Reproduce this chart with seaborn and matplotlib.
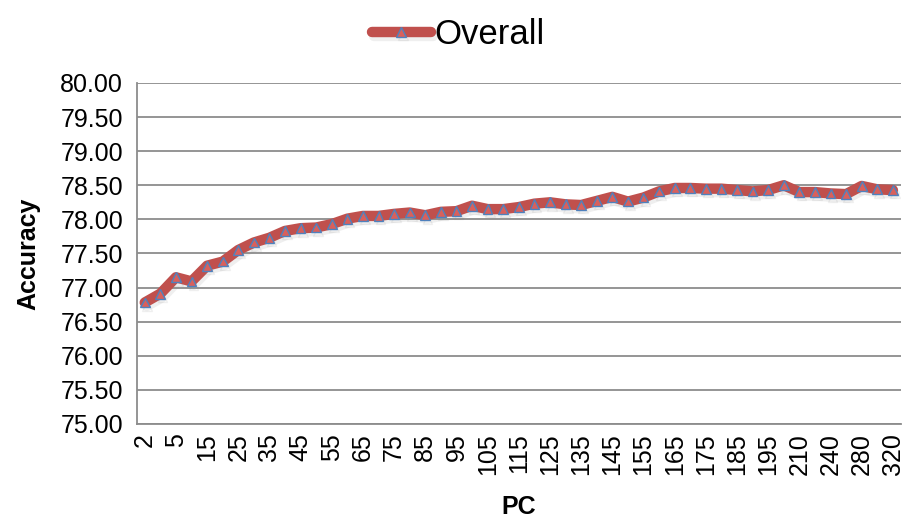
import numpy as np
import pandas as pd
import matplotlib
matplotlib.use("Agg")
import matplotlib.pyplot as plt
import matplotlib.patheffects as pe
import seaborn as sns

pc_labels = ["2", "3", "5", "10", "15", "20", "25", "30", "35", "40", "45", "50",
             "55", "60", "65", "70", "75", "80", "85", "90", "95", "100", "105", "110",
             "115", "120", "125", "130", "135", "140", "145", "150", "155", "160", "165",
             "170", "175", "180", "185", "190", "195", "200", "210", "220", "240", "260",
             "280", "300", "320"]
overall = [76.78, 76.91, 77.15, 77.09, 77.32, 77.38, 77.55, 77.66, 77.73, 77.83,
           77.87, 77.88, 77.93, 78.01, 78.05, 78.05, 78.08, 78.10, 78.06, 78.11,
           78.12, 78.20, 78.15, 78.15, 78.18, 78.23, 78.25, 78.22, 78.21, 78.27,
           78.33, 78.26, 78.32, 78.41, 78.46, 78.46, 78.45, 78.45, 78.43, 78.41,
           78.43, 78.50, 78.40, 78.40, 78.38, 78.37, 78.49, 78.44, 78.43]
y_ticks = [75.0, 75.5, 76.0, 76.5, 77.0, 77.5, 78.0, 78.5, 79.0, 79.5, 80.0]

df = pd.DataFrame({"pos": np.arange(len(pc_labels)), "PC": pc_labels, "Accuracy": overall})

sns.set_style("white")
plt.rcParams["font.family"] = ["Liberation Sans", "DejaVu Sans"]
plt.rcParams["text.color"] = "black"
plt.rcParams["axes.labelcolor"] = "black"
plt.rcParams["xtick.color"] = "black"
plt.rcParams["ytick.color"] = "black"

fig = plt.figure(figsize=(9.07, 5.22), dpi=100)
ax = fig.add_axes([0.151, 0.188, 0.842, 0.653])

red = "#C0504D"
sns.lineplot(data=df, x="pos", y="Accuracy", ax=ax, color=red, linewidth=7.5,
             marker="^", markersize=7, markerfacecolor="#D9605C",
             markeredgecolor="#4F81BD", markeredgewidth=1.0, label="Overall",
             legend=False, solid_capstyle="round", solid_joinstyle="round")
line = ax.get_lines()[0]
line.set_path_effects([pe.SimpleLineShadow(offset=(1.5, -2.5), alpha=0.12, shadow_color="gray"),
                       pe.Normal()])

n = len(pc_labels)
ax.set_xlim(-0.5, n - 0.5)
ax.set_ylim(75, 80)
ax.set_yticks(y_ticks)
ax.set_yticklabels([f"{v:.2f}" for v in y_ticks], fontsize=18)
ax.yaxis.grid(True, color="#8C8C8C", linewidth=1.3)
ax.xaxis.grid(False)

ax.set_xticks(np.arange(0, n, 2))
ax.set_xticklabels(pc_labels[::2], rotation=90, fontsize=18)
ax.set_xticks(np.arange(n + 1) - 0.5, minor=True)
ax.tick_params(axis="x", which="major", length=0, pad=7)
ax.tick_params(axis="x", which="minor", length=6, color="#8C8C8C", width=1.3, direction="out")
ax.tick_params(axis="y", which="major", length=6, color="#8C8C8C", width=1.3, direction="out", pad=4)

for s in ["top", "right"]:
    ax.spines[s].set_visible(False)
for s in ["left", "bottom"]:
    ax.spines[s].set_color("#8C8C8C")
    ax.spines[s].set_linewidth(1.3)

ax.set_xlabel("PC", fontsize=18, fontweight="bold", labelpad=14)
ax.set_ylabel("Accuracy", fontsize=18, fontweight="bold", labelpad=14)

handles, labels = ax.get_legend_handles_labels()
leg = fig.legend(handles, labels, loc="upper center", bbox_to_anchor=(0.505, 1.025),
                 frameon=False, fontsize=25, handlelength=1.7, handletextpad=0.1)

fig.savefig("out.png", dpi=100)
